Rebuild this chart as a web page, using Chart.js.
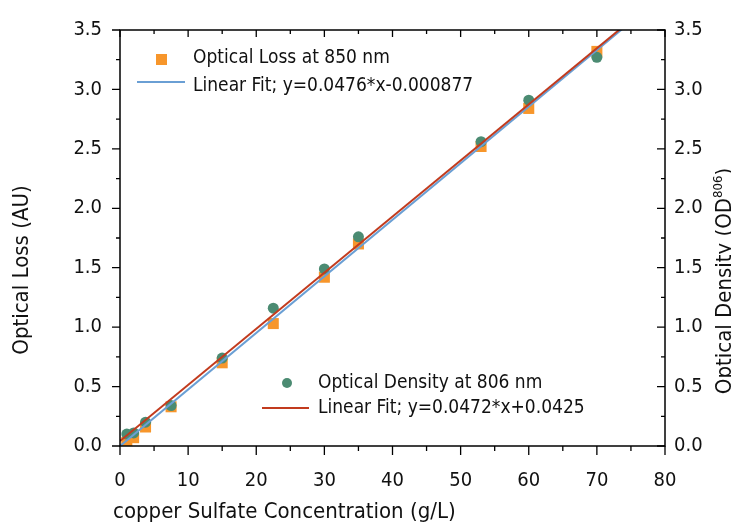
<!DOCTYPE html>
<html>
<head>
<meta charset="utf-8">
<script src="https://cdn.jsdelivr.net/npm/chart.js@4"></script>
<style>
  html, body { margin: 0; padding: 0; background: #fff; overflow: hidden; }
  canvas { display: block; }
</style>
</head>
<body>
<canvas id="chart" width="731" height="525"></canvas>
<script>
// values
const concentration = [1, 2, 3.75, 7.5, 15, 22.5, 30, 35, 53, 60, 70];
const opticalLoss = [0.03, 0.07, 0.16, 0.33, 0.70, 1.03, 1.42, 1.70, 2.52, 2.84, 3.32];
const opticalDensity = [0.10, 0.11, 0.20, 0.34, 0.74, 1.16, 1.49, 1.76, 2.56, 2.91, 3.27];

// fit lines: y=0.0476*x-0.000877 and y=0.0472*x+0.0425, end points
const fitX = [0, 80];
const lossFit = [-0.0009, 3.807];
const densityFit = [0.0425, 3.8185];

const xTicks = [0, 10, 20, 30, 40, 50, 60, 70, 80];
const yTicks = [0, 0.5, 1, 1.5, 2, 2.5, 3, 3.5];

const FONT = "'DejaVu Sans Condensed', 'DejaVu Sans', sans-serif";
Chart.defaults.font.family = FONT;
Chart.defaults.font.size = 20;
Chart.defaults.color = '#111';

const ORANGE = '#F7962B';
const GREEN = '#4B8B72';
const BLUE = '#6A9FD4';
const RED = '#C23B1E';

const pts = (xs, ys) => xs.map((x, i) => ({ x: x, y: ys[i] }));

// frame + inward/outward ticks with minor ticks
const frameTicks = {
  id: 'frameTicks',
  afterDatasetsDraw(chart) {
    const { ctx, chartArea: a, scales } = chart;
    const x = scales.x, y = scales.y;
    ctx.save();
    ctx.strokeStyle = '#000';
    ctx.lineWidth = 1.5;
    ctx.strokeRect(a.left, a.top, a.right - a.left, a.bottom - a.top);
    ctx.lineWidth = 1.3;
    ctx.beginPath();
    for (let v = 0; v <= 80; v += 5) {
      const px = x.getPixelForValue(v);
      const major = v % 10 === 0;
      ctx.moveTo(px, a.bottom); ctx.lineTo(px, a.bottom + (major ? 9 : 5));
      ctx.moveTo(px, a.top); ctx.lineTo(px, a.top + (major ? 7 : 4));
    }
    for (let i = 0; i <= 14; i++) {
      const v = i * 0.25;
      const py = y.getPixelForValue(v);
      const major = i % 2 === 0;
      ctx.moveTo(a.left, py); ctx.lineTo(a.left - (major ? 8 : 4), py);
      ctx.moveTo(a.right, py); ctx.lineTo(a.right - (major ? 8 : 4), py);
    }
    ctx.stroke();
    ctx.restore();
  }
};

// axis titles and the two legends
const annotations = {
  id: 'annotations',
  afterDraw(chart) {
    const { ctx } = chart;
    const ds = chart.data.datasets;
    const T = '22px ' + FONT;
    ctx.save();
    ctx.fillStyle = '#111';
    ctx.textBaseline = 'alphabetic';

    // x title
    ctx.font = T;
    ctx.textAlign = 'left';
    ctx.fillText('copper Sulfate Concentration (g/L)', 113, 518);

    // left title
    ctx.save();
    ctx.translate(28, 270);
    ctx.rotate(-Math.PI / 2);
    ctx.textAlign = 'center';
    ctx.fillText('Optical Loss (AU)', 0, 0);
    ctx.restore();

    // right title with superscript
    ctx.save();
    ctx.translate(731, 281);
    ctx.rotate(-Math.PI / 2);
    const a = 'Optical Density (OD', b = '806', c = ')';
    ctx.font = T;
    const wa = ctx.measureText(a).width, wc = ctx.measureText(c).width;
    ctx.font = '13px ' + FONT;
    const wb = ctx.measureText(b).width;
    let sx = -(wa + wb + wc) / 2;
    ctx.textAlign = 'left';
    ctx.font = T;
    ctx.fillText(a, sx, 0);
    ctx.font = '13px ' + FONT;
    ctx.fillText(b, sx + wa, -9);
    ctx.font = T;
    ctx.fillText(c, sx + wa + wb, 0);
    ctx.restore();

    // legend 1
    ctx.font = '19px ' + FONT;
    ctx.textAlign = 'left';
    ctx.fillStyle = ds[0].backgroundColor;
    ctx.fillRect(156, 54, 11, 11);
    ctx.strokeStyle = ds[1].borderColor;
    ctx.lineWidth = 2;
    ctx.beginPath(); ctx.moveTo(137, 82); ctx.lineTo(185, 82); ctx.stroke();
    ctx.fillStyle = '#111';
    ctx.fillText(ds[0].label, 193, 63);
    ctx.fillText(ds[1].label, 193, 91);

    // legend 2
    ctx.fillStyle = ds[2].backgroundColor;
    ctx.beginPath(); ctx.arc(287, 383, 5, 0, Math.PI * 2); ctx.fill();
    ctx.strokeStyle = ds[3].borderColor;
    ctx.beginPath(); ctx.moveTo(262, 408); ctx.lineTo(309, 408); ctx.stroke();
    ctx.fillStyle = '#111';
    ctx.fillText(ds[2].label, 318, 388);
    ctx.fillText(ds[3].label, 318, 413);
    ctx.restore();
  }
};

new Chart(document.getElementById('chart'), {
  type: 'scatter',
  data: {
    datasets: [
      {
        label: 'Optical Loss at 850 nm',
        data: pts(concentration, opticalLoss),
        pointStyle: 'rect',
        pointRadius: 7.8,
        backgroundColor: ORANGE,
        borderWidth: 0,
        order: 3
      },
      {
        label: 'Linear Fit; y=0.0476*x-0.000877',
        type: 'line',
        data: pts(fitX, lossFit),
        borderColor: BLUE,
        borderWidth: 2,
        pointRadius: 0,
        order: 1
      },
      {
        label: 'Optical Density at 806 nm',
        data: pts(concentration, opticalDensity),
        pointStyle: 'circle',
        pointRadius: 5.5,
        backgroundColor: GREEN,
        borderWidth: 0,
        order: 2
      },
      {
        label: 'Linear Fit; y=0.0472*x+0.0425',
        type: 'line',
        data: pts(fitX, densityFit),
        borderColor: RED,
        borderWidth: 2,
        pointRadius: 0,
        order: 0
      }
    ]
  },
  options: {
    responsive: false,
    animation: false,
    devicePixelRatio: 1,
    layout: { padding: { top: 18, left: 0, right: 0, bottom: 0 } },
    plugins: {
      legend: { display: false },
      tooltip: { enabled: false }
    },
    scales: {
      x: {
        type: 'linear',
        min: 0, max: 80,
        afterBuildTicks: s => { s.ticks = xTicks.map(v => ({ value: v })); },
        ticks: { padding: 23, maxRotation: 0 },
        grid: { display: false, drawTicks: false },
        border: { display: false },
        afterFit: s => { s.height = 79; }
      },
      y: {
        min: 0, max: 3.5,
        afterBuildTicks: s => { s.ticks = yTicks.map(v => ({ value: v })); },
        ticks: { padding: 18, callback: v => v.toFixed(1) },
        grid: { display: false, drawTicks: false },
        border: { display: false },
        afterFit: s => { s.width = 120; }
      },
      y2: {
        position: 'right',
        min: 0, max: 3.5,
        afterBuildTicks: s => { s.ticks = yTicks.map(v => ({ value: v })); },
        ticks: { padding: 9, callback: v => v.toFixed(1) },
        grid: { display: false, drawTicks: false },
        border: { display: false },
        afterFit: s => { s.width = 66; }
      }
    }
  },
  plugins: [frameTicks, annotations]
});
</script>
</body>
</html>
